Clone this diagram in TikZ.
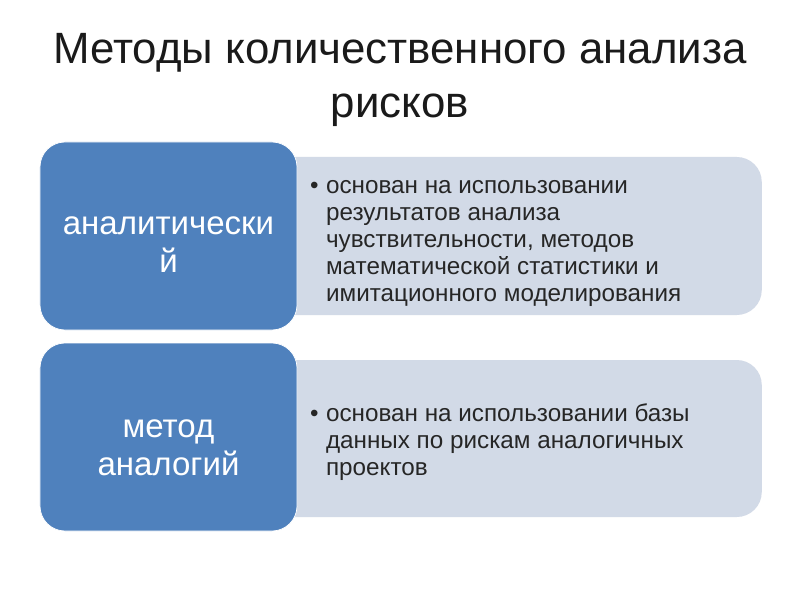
\documentclass[tikz,border=0pt]{standalone}
\usepackage{fontspec}
\setmainfont{Liberation Sans}
\usepackage{xcolor}
\usetikzlibrary{positioning,calc}

\definecolor{methodblue}{HTML}{4F81BD}
\definecolor{notefill}{HTML}{D2DAE7}
\definecolor{titlegray}{HTML}{1A1A1A}

\begin{document}
\begin{tikzpicture}[x=0.3mm,y=-0.3mm,
    method/.style={fill=methodblue, draw=white, line width=0.6pt, rounded corners=7.5mm,
        minimum width=77.1mm, minimum height=56.4mm},
    methodtext/.style={text=white, align=center, font=\fontsize{28.2}{32}\selectfont},
    note/.style={fill=notefill, rounded corners=7.5mm, minimum width=147.6mm},
    notetext/.style={anchor=west, align=left, text=black!85, inner sep=0pt,
        font=\fontsize{20.7}{23}\selectfont}]
    \useasboundingbox (0,0) rectangle (800,600);
    \fill[white] (0,0) rectangle (800,600);

    % Title
    \node [align=center, text=titlegray, font=\fontsize{37.4}{45.5}\selectfont] (title) at (400,80)
        {Методы количественного анализа\\рисков};

    % First row
    \node [note, minimum height=47.4mm, anchor=east] (note1) at (762,236) {};
    \node [method] (meth1) at (168.5,236) {};
    \node [methodtext] (label1) at ($(meth1.center)+(0,8.5)$) {аналитически\\й};
    \node [notetext] (text1) at (310,242)
        {\begin{tabular}{@{}l@{\hspace{2.2mm}}l@{}}
        • & основан на использовании\\
          & результатов анализа\\
          & чувствительности, методов\\
          & математической статистики и\\
          & имитационного моделирования
        \end{tabular}};

    % Second row
    \node [note, minimum height=47.1mm, anchor=east] (note2) at (762,438.5) {};
    \node [method] (meth2) at (168.5,437) {};
    \node [methodtext] (label2) at ($(meth2.center)+(0,11)$) {метод\\аналогий};
    \node [notetext] (text2) at (310,443)
        {\begin{tabular}{@{}l@{\hspace{2.2mm}}l@{}}
        • & основан на использовании базы\\
          & данных по рискам аналогичных\\
          & проектов
        \end{tabular}};
\end{tikzpicture}
\end{document}
